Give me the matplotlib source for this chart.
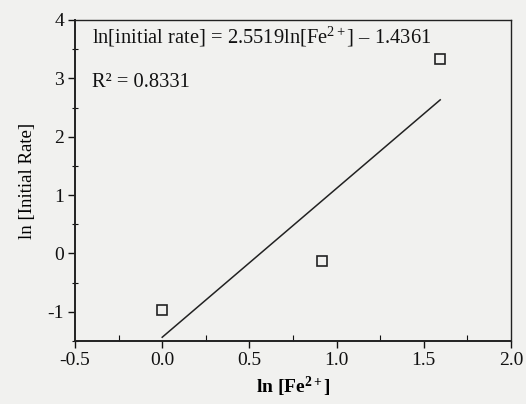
import numpy as np
import matplotlib.pyplot as plt
from matplotlib.ticker import MultipleLocator

# ln of Fe2+ concentration vs ln of initial rate
ln_fe = [0.0, 0.916, 1.594]
ln_rate = [-0.97, -0.13, 3.33]

slope = 2.5519
intercept = -1.4361
r2 = 0.8331

plt.rcParams['font.family'] = ['Liberation Serif', 'DejaVu Serif']
plt.rcParams['mathtext.fontset'] = 'custom'
plt.rcParams['mathtext.rm'] = 'Liberation Serif'
plt.rcParams['mathtext.it'] = 'Liberation Serif:italic'
plt.rcParams['mathtext.bf'] = 'Liberation Serif:bold'

fig = plt.figure(figsize=(5.26, 4.04), dpi=100, facecolor='#f1f1ef')
ax = fig.add_axes([0.1426, 0.156, 0.8289, 0.7945])
ax.set_facecolor('#f1f1ef')

ax.plot(ln_fe, ln_rate, 's', ms=7, mfc='none', mec='#222222', mew=1.2)

xfit = np.array([ln_fe[0], ln_fe[-1]])
ax.plot(xfit, slope * xfit + intercept, color='#222222', lw=1.1)

ax.text(0.04, 0.947, 'ln[initial rate] = %.4fln[Fe$^{2+}$] \u2013 %.4f' % (slope, -intercept),
        transform=ax.transAxes, fontsize=14.8, va='center', color='#111111')
ax.text(0.04, 0.804, 'R\u00b2 = %.4f' % r2, transform=ax.transAxes,
        fontsize=14.8, va='center', color='#111111')

ax.set_xlim(-0.5, 2.0)
ax.set_ylim(-1.5, 4)
ax.xaxis.set_minor_locator(MultipleLocator(0.25))
ax.yaxis.set_minor_locator(MultipleLocator(0.5))
ax.set_xticks([-0.5, 0.0, 0.5, 1.0, 1.5, 2.0])
ax.set_xticklabels(['-0.5', '0.0', '0.5', '1.0', '1.5', '2.0'])
ax.set_yticks([-1, 0, 1, 2, 3, 4])
ax.set_yticklabels(['-1', '0', '1', '2', '3', '4'])

ax.tick_params(which='major', direction='out', length=5, width=1, labelsize=14,
               colors='#111111', pad=3)
ax.tick_params(axis='x', which='minor', direction='in', length=4, width=0.8, colors='#111111')
ax.tick_params(axis='y', which='minor', direction='inout', length=4, width=0.8, colors='#111111')
for s in ax.spines.values():
    s.set_color('#222222')
    s.set_linewidth(1.0)
ax.spines['left'].set_linewidth(1.4)
ax.spines['bottom'].set_linewidth(1.4)

ax.set_xlabel('ln [Fe$^{\\mathbf{2+}}$]', fontsize=14, fontweight='bold', labelpad=4)
ax.set_ylabel('ln [Initial Rate]', fontsize=13.5, labelpad=8)

fig.savefig('out.png', dpi=100, facecolor=fig.get_facecolor())
